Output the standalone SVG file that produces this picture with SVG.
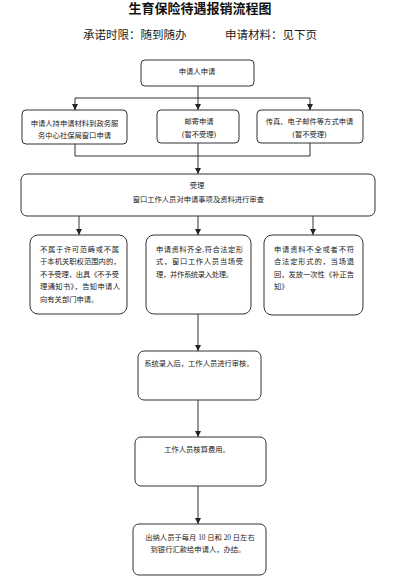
<svg xmlns="http://www.w3.org/2000/svg" width="400" height="577" viewBox="0 0 400 577">
<style>
text{font-family:"Liberation Serif","Noto Sans CJK SC",serif;fill:#222}
.t{font-size:13px;font-weight:bold;fill:#111}
.s{font-size:11.5px;fill:#222}
.n{font-size:7.3px}
.c{text-anchor:middle}
rect{fill:#fff;stroke:#333;stroke-width:1}
.ln{fill:none;stroke:#333;stroke-width:1}
</style>
<defs>
<marker id="ah" markerUnits="userSpaceOnUse" markerWidth="6" markerHeight="6" refX="6" refY="3" orient="auto">
<path d="M0,0 L6,3 L0,6 z" fill="#222"/>
</marker>
</defs>
<rect x="0" y="0" width="400" height="577" style="fill:#fff;stroke:none"/>
<text class="t c" x="200" y="13">生育保险待遇报销流程图</text>
<text class="s" x="83" y="38.5">承诺时限：随到随办</text>
<text class="s" x="225" y="38.5">申请材料：见下页</text>

<g id="connectors">
<line class="ln" x1="198" y1="86" x2="198" y2="110" marker-end="url(#ah)"/>
<polyline class="ln" points="75,110 75,98 310,98 310,110"/>
<line class="ln" x1="75" y1="104" x2="75" y2="110" marker-end="url(#ah)"/>
<line class="ln" x1="310" y1="104" x2="310" y2="110" marker-end="url(#ah)"/>
<polyline class="ln" points="75,144 75,156 310,156 310,143"/>
<line class="ln" x1="198" y1="143" x2="198" y2="174" marker-end="url(#ah)"/>
<line class="ln" x1="79" y1="216" x2="79" y2="235" marker-end="url(#ah)"/>
<line class="ln" x1="198" y1="216" x2="198" y2="235" marker-end="url(#ah)"/>
<line class="ln" x1="313" y1="216" x2="313" y2="235" marker-end="url(#ah)"/>
<line class="ln" x1="198" y1="314" x2="198" y2="351" marker-end="url(#ah)"/>
<line class="ln" x1="198" y1="400" x2="198" y2="437" marker-end="url(#ah)"/>
<line class="ln" x1="198" y1="486" x2="198" y2="524" marker-end="url(#ah)"/>
</g>

<g id="n1">
<rect x="141" y="60" width="113" height="26" rx="4"/>
<text class="n c" x="197" y="73.5">申请人申请</text>
</g>
<g id="n2a">
<rect x="22" y="110" width="105" height="34" rx="4"/>
<text class="n c" x="74.5" y="125.5">申请人持申请材料到政务服</text>
<text class="n c" x="74.5" y="137.8">务中心社保局窗口申请</text>
</g>
<g id="n2b">
<rect x="157" y="110" width="82" height="33" rx="4"/>
<text class="n c" x="199" y="124">邮寄申请</text>
<text class="n c" x="199" y="137">(暂不受理)</text>
</g>
<g id="n2c">
<rect x="257" y="110" width="106" height="33" rx="4"/>
<text class="n c" x="309.5" y="124">传真、电子邮件等方式申请</text>
<text class="n c" x="309.5" y="137">(暂不受理)</text>
</g>
<g id="n3">
<rect x="21" y="174" width="354" height="42" rx="6"/>
<text class="n c" x="197" y="188">受理</text>
<text class="n c" x="198.3" y="202">窗口工作人员对申请事项及资料进行审查</text>
</g>
<g id="n4a">
<rect x="30" y="235" width="97" height="79" rx="8"/>
<text class="n" x="40" y="251.8" textLength="79" lengthAdjust="spacing">不属于许可范畴或不属</text>
<text class="n" x="40" y="264.3" textLength="80.5" lengthAdjust="spacing">于本机关职权范围内的，</text>
<text class="n" x="40" y="276.8" textLength="79" lengthAdjust="spacing">不予受理，出具《不予受</text>
<text class="n" x="40" y="289.3" textLength="80" lengthAdjust="spacing">理通知书》，告知申请人</text>
<text class="n" x="40" y="301.8">向有关部门申请。</text>
</g>
<g id="n4b">
<rect x="146" y="235" width="105" height="79" rx="8"/>
<text class="n" x="156" y="251.8" textLength="87" lengthAdjust="spacing">申请资料齐全,符合法定形</text>
<text class="n" x="156" y="264.3" textLength="87" lengthAdjust="spacing">式，窗口工作人员当场受</text>
<text class="n" x="156" y="276.8" textLength="77" lengthAdjust="spacing">理，并作系统录入处理。</text>
</g>
<g id="n4c">
<rect x="264" y="235" width="99" height="80" rx="8"/>
<text class="n" x="274" y="251.8" textLength="80" lengthAdjust="spacing">申请资料不全或者不符</text>
<text class="n" x="274" y="264.3" textLength="80" lengthAdjust="spacing">合法定形式的，当场退</text>
<text class="n" x="274" y="276.8" textLength="80" lengthAdjust="spacing">回，发放一次性《补正告</text>
<text class="n" x="274" y="289.3">知》</text>
</g>
<g id="n5">
<rect x="138" y="351" width="123" height="49" rx="6"/>
<text class="n c" x="199" y="366">系统录入后，工作人员进行审核。</text>
</g>
<g id="n6">
<rect x="135" y="437" width="131" height="49" rx="6"/>
<text class="n c" x="197" y="452">工作人员核算费用。</text>
</g>
<g id="n7">
<rect x="133" y="524" width="133" height="51" rx="6"/>
<text class="n c" x="200" y="540">出纳人员于每月 10 日和 20 日左右</text>
<text class="n c" x="198" y="552">到银行汇款给申请人，办结。</text>
</g>
</svg>
